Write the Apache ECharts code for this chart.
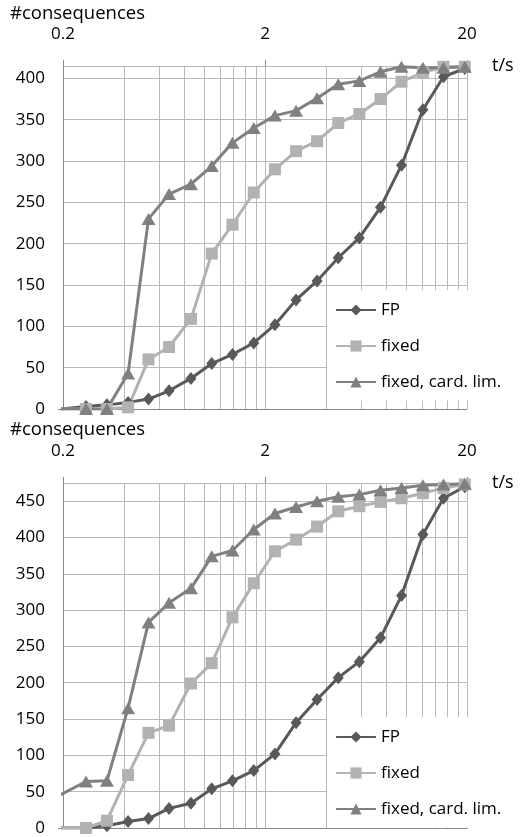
<!DOCTYPE html>
<html><head><meta charset="utf-8">
<script src="https://cdn.jsdelivr.net/npm/echarts@6/dist/echarts.min.js"></script>
<style>html,body{margin:0;padding:0;background:#fff}#c{width:520px;height:837px}</style>
</head><body><div id="c"></div>
<script>
// ---- data ----
const times    = [0.195, 0.26, 0.33, 0.42, 0.53, 0.67, 0.86, 1.09, 1.38, 1.76, 2.24, 2.85, 3.62, 4.61, 5.86, 7.46, 9.48, 12.1, 15.3, 19.5];
const fpTop    = [0, 3, 5, 8, 12, 22, 37, 55, 66, 80, 102, 132, 155, 183, 207, 244, 295, 362, 402, 412];
const fixedTop = [0, 0, 0, 2, 60, 75, 109, 188, 223, 262, 290, 312, 324, 346, 357, 375, 396, 407, 414, 414];
const cardTop  = [0, 0, 0, 43, 230, 260, 272, 294, 322, 340, 355, 361, 376, 393, 397, 408, 414, 413, 413, 414];
const fpBot    = [0, 0, 3, 9, 13, 27, 34, 54, 65, 79, 102, 145, 177, 207, 229, 262, 320, 404, 454, 470];
const fixedBot = [0, 0, 10, 73, 131, 141, 199, 227, 290, 337, 381, 397, 415, 436, 443, 449, 454, 461, 468, 473];
const cardBot  = [46, 64, 65, 165, 283, 310, 330, 374, 382, 411, 433, 442, 450, 456, 459, 465, 468, 472, 473, 474];
const seriesNames = ['FP', 'fixed', 'fixed, card. lim.'];
const xLabelTicks = [0.2, 2, 20];
const xGridTicks  = [0.2, 0.4, 0.6, 0.8, 1, 1.2, 1.4, 1.6, 1.8, 2, 4, 6, 8, 10, 12, 14, 16, 18, 20];
const yMaxTop = 415, yMaxBot = 475, yStep = 50;
const yTitle = '#consequences', xTitle = 't/s';

// ---- styling ----
const FONT = 'Open Sans';
const FS = 17;
const AXIS_C = '#868686', GRID_C = '#b9b9b9';
const colors = ['#595959', '#b2b2b2', '#808080'];
const symbols = ['diamond', 'rect', 'triangle'];
const symbolSizes = [[11, 13], 12, [14, 12]];

const grids = [
  {left: 63, top: 66, width: 404, height: 343},
  {left: 63, top: 483, width: 404, height: 345}
];
const xAxes = [], yAxes = [], series = [], legends = [], titles = [];
const panels = [
  {data: [fpTop, fixedTop, cardTop], max: yMaxTop, legendTop: 290, titleTop: 4},
  {data: [fpBot, fixedBot, cardBot], max: yMaxBot, legendTop: 717, titleTop: 420}
];
panels.forEach((p, g) => {
  // labelled top axis with major ticks
  xAxes.push({
    type: 'log', logBase: 10, min: 0.2, max: 20, gridIndex: g, position: 'top',
    name: xTitle, nameLocation: 'end', nameGap: 25,
    nameTextStyle: {fontFamily: FONT, fontSize: 18, color: '#000', padding: [0, 0, 8, 0]},
    axisLine: {show: false, onZero: false},
    axisTick: {show: true, customValues: xLabelTicks, length: 6, inside: false, lineStyle: {color: AXIS_C}},
    axisLabel: {show: true, customValues: xLabelTicks, margin: 22, fontFamily: FONT, fontSize: FS, color: '#000', lineHeight: 20,
      formatter: v => String(+(+v).toPrecision(3))},
    splitLine: {show: false}, minorTick: {show: false}, minorSplitLine: {show: false}
  });
  // gridline axis (bottom line = axis line at 0)
  xAxes.push({
    type: 'log', logBase: 10, min: 0.2, max: 20, gridIndex: g, position: 'bottom',
    axisLine: {show: true, onZero: false, lineStyle: {color: AXIS_C, width: 1}},
    axisTick: {show: false, customValues: xGridTicks},
    axisLabel: {show: false},
    splitLine: {show: true, lineStyle: {color: GRID_C, width: 1}}
  });
  yAxes.push({
    type: 'value', min: 0, max: p.max, interval: yStep, gridIndex: g, position: 'left',
    axisLine: {show: true, onZero: false, lineStyle: {color: AXIS_C, width: 1}},
    axisTick: {show: false},
    axisLabel: {margin: 18, fontFamily: FONT, fontSize: FS, color: '#000', showMaxLabel: false,
      formatter: v => (v % yStep === 0 ? String(v) : '')},
    splitLine: {show: true, lineStyle: {color: GRID_C, width: 1}}
  });
  yAxes.push({
    type: 'value', min: 0, max: p.max, gridIndex: g, position: 'left',
    axisLine: {show: false, onZero: false},
    axisTick: {show: true, customValues: [0], length: 5, lineStyle: {color: AXIS_C}},
    axisLabel: {show: false}, splitLine: {show: false}
  });
  p.data.forEach((arr, s) => {
    series.push({
      type: 'line', name: seriesNames[s], xAxisIndex: g * 2, yAxisIndex: g * 2,
      data: times.map((t, i) => [t, arr[i]]),
      symbol: symbols[s], symbolSize: symbolSizes[s], showSymbol: true, clip: true,
      lineStyle: {color: colors[s], width: 3},
      itemStyle: {color: colors[s], borderWidth: 0},
      emphasis: {disabled: true}
    });
  });
  legends.push({
    data: seriesNames, orient: 'vertical', left: 327, top: p.legendTop,
    padding: [11.5, 6, 10, 8], itemGap: 19, itemWidth: 40, itemHeight: 14,
    backgroundColor: '#fff', selectedMode: false,
    textStyle: {fontFamily: FONT, fontSize: FS, color: '#000', lineHeight: 17}
  });
  titles.push({
    text: yTitle, left: 10, top: p.titleTop, padding: 0,
    textStyle: {fontFamily: FONT, fontSize: 18.5, fontWeight: 'normal', color: '#000', lineHeight: 20}
  });
});

const chart = echarts.init(document.getElementById('c'), null, {renderer: 'canvas'});
chart.setOption({
  animation: false,
  backgroundColor: '#fff',
  color: colors,
  title: titles,
  legend: legends,
  grid: grids,
  xAxis: xAxes,
  yAxis: yAxes,
  series: series
});
</script>
</body></html>
